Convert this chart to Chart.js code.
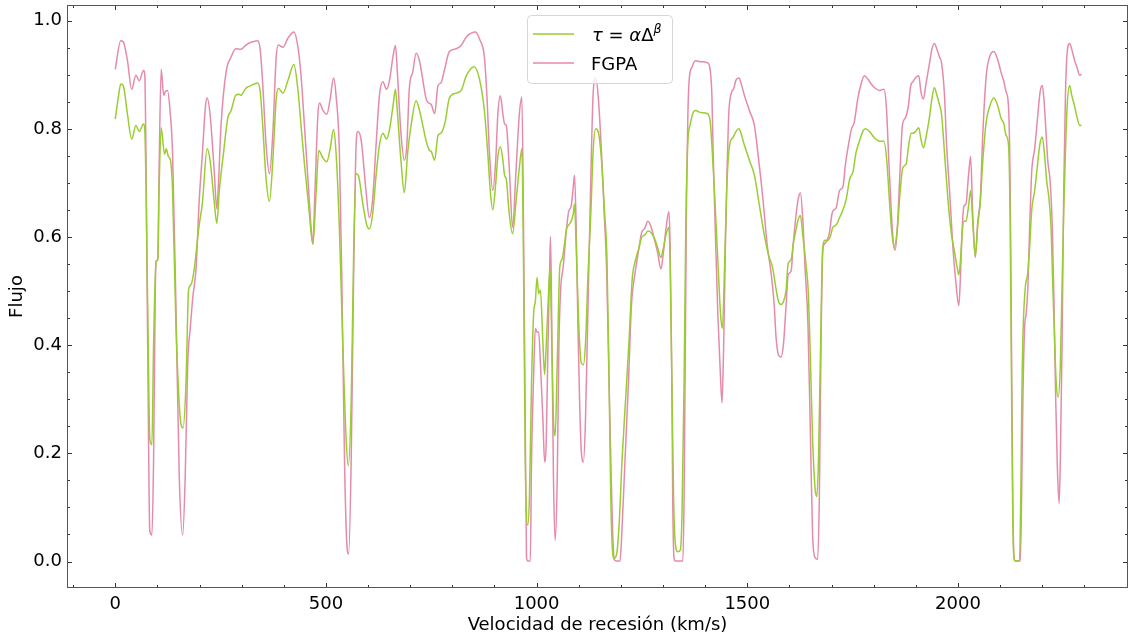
<!DOCTYPE html>
<html>
<head>
<meta charset="utf-8">
<script src="https://cdn.jsdelivr.net/npm/chart.js@4.4.1/dist/chart.umd.min.js"></script>
<style>
  html, body { margin: 0; padding: 0; background: #fff; }
  #wrap { width: 1129px; height: 639px; }
</style>
</head>
<body>
<div id="wrap"><canvas id="myChart" width="1129" height="639"></canvas></div>
<script>
// tau = alpha * Delta^beta
const tauVel = [0,8,13,19,29,39,49,57,67,70,77,82,87,91,97,101,104,109,117,121,126,131,136,144,156,161,168,174,180,188,198,207,218,225,235,241,247,257,267,275,286,294,
  298,310,322,338,344,350,358,366,374,382,387,398,410,424,433,441,449,459,469,477,483,493,502,510,518,524,532,540,548,553,560,566,572,577,587,597,603,
  611,619,627,635,644,651,659,665,670,678,686,694,702,714,722,730,738,746,750,758,766,773,783,793,809,821,833,845,852,865,876,884,890,896,903,908,914,920,924,928,
  935,943,951,959,965,969,973,979,983,988,993,997,1001,1005,1009,1015,1019,1023,1027,1032,1036,1040,1044,1049,1055,1060,1065,1071,1076,1082,1087,1090,1094,1100,1106,1111,1116,1122,1129,1134,1140,1146,1154,1161,1167,1172,1176,1180,1184,1190,1196,1203,1211,1219,1227,1235,1243,
  1250,1256,1264,1272,1280,1287,1295,1301,1307,1314,1317,1321,1325,1329,1335,1341,1345,1350,1354,1359,1364,1370,1377,1390,1406,1412,1416,1422,1430,1437,1441,1446,1451,1458,1466,1473,1480,1485,1493,1505,1517,1529,1541,1551,1560,1568,
  1574,1580,1586,1592,1597,1604,1609,1616,1621,1626,1632,1640,1645,1650,1655,1661,1665,1669,1674,1679,1685,1691,1697,1703,1711,1719,1727,1735,1743,1751,1758,1766,1774,1780,1790,1802,1814,1824,1831,1837,1843,1849,1856,1863,1869,1877,1883,1889,
  1893,1899,1907,1912,1918,1924,1932,1938,1944,1950,1956,1961,1968,1976,1984,1992,1998,2002,2006,2010,2014,2019,2025,2030,2035,2041,2047,2053,2059,2067,2075,2085,2095,2102,2109,2114,2120,2124,2127,2130,2133,2136,2146,2149,2152,2155,2160,2165,2170,2175,2182,2188,2194,2200,2205,2211,2215,2221,2225,2229,2233,2238,2243,2247,2251,2255,2259,2265,2270,2277,2282,2289,2293];
const tauFlux = [0.818,0.862,0.883,0.880,0.827,0.781,0.806,0.795,0.809,0.800,0.473,0.226,0.216,0.403,0.555,0.558,0.686,0.802,0.753,0.763,0.749,0.742,0.686,0.438,0.254,0.247,0.332,0.502,0.512,0.544,0.615,0.664,0.763,0.742,0.664,0.625,0.686,0.756,0.820,0.834,0.862,0.864,
  0.862,0.875,0.880,0.885,0.869,0.806,0.707,0.666,0.742,0.855,0.875,0.866,0.890,0.919,0.876,0.806,0.735,0.657,0.587,0.686,0.760,0.746,0.739,0.763,0.799,0.756,0.615,0.403,0.226,0.177,0.297,0.580,0.717,0.714,0.664,0.622,0.615,
  0.643,0.714,0.770,0.792,0.781,0.799,0.841,0.873,0.827,0.742,0.682,0.756,0.806,0.852,0.834,0.806,0.777,0.760,0.758,0.742,0.788,0.792,0.813,0.857,0.866,0.871,0.898,0.912,0.915,0.890,0.834,0.756,0.686,0.650,0.700,0.749,0.767,0.742,0.714,0.707,
  0.643,0.606,0.664,0.728,0.763,0.544,0.191,0.067,0.120,0.332,0.459,0.481,0.525,0.495,0.502,0.403,0.346,0.403,0.473,0.544,0.403,0.261,0.233,0.367,0.544,0.558,0.580,0.615,0.622,0.629,0.643,0.661,0.580,0.438,0.367,0.364,0.403,0.530,0.650,0.756,0.800,0.795,0.742,0.650,0.558,0.332,0.120,0.021,0.006,0.014,0.071,0.191,0.297,0.403,0.523,0.558,0.580,
  0.601,0.603,0.611,0.608,0.597,0.581,0.562,0.580,0.604,0.618,0.544,0.332,0.120,0.035,0.018,0.021,0.085,0.332,0.615,0.777,0.806,0.827,0.834,0.830,0.828,0.813,0.770,0.686,0.558,0.452,0.431,0.544,0.686,0.770,0.784,0.795,0.800,0.792,0.770,0.742,0.714,0.657,0.601,0.565,0.544,0.505,
  0.481,0.475,0.481,0.502,0.551,0.558,0.587,0.615,0.633,0.640,0.601,0.544,0.495,0.367,0.226,0.134,0.120,0.191,0.403,0.580,0.594,0.594,0.601,0.618,0.622,0.636,0.650,0.671,0.707,0.721,0.756,0.777,0.795,0.800,0.795,0.783,0.777,0.777,0.742,0.671,0.608,0.581,0.615,0.686,0.728,0.735,0.770,0.792,
  0.792,0.795,0.802,0.781,0.765,0.784,0.820,0.855,0.876,0.862,0.845,0.827,0.756,0.671,0.608,0.572,0.544,0.530,0.558,0.608,0.629,0.629,0.657,0.686,0.629,0.565,0.622,0.664,0.742,0.813,0.841,0.857,0.841,0.820,0.809,0.788,0.770,0.615,0.332,0.085,0.006,0.001,0.001,0.120,0.332,0.438,0.509,0.530,0.580,0.650,0.686,0.728,0.770,0.785,0.756,0.700,0.678,0.615,0.509,0.417,0.332,0.304,0.367,0.509,0.650,0.756,0.841,0.880,0.862,0.841,0.823,0.806,0.807];

// FGPA
const fgpaVel = [0,13,19,29,39,49,57,67,70,77,82,87,91,95,97,101,104,109,115,119,124,130,136,144,152,160,166,172,178,184,192,199,207,214,218,225,235,241,245,251,263,275,286,
  298,310,322,338,344,350,358,366,374,382,387,398,410,424,433,441,449,459,465,469,474,481,485,493,502,510,518,524,532,538,544,550,554,560,566,572,576,584,595,603,
  611,619,627,635,644,651,659,665,670,678,686,692,698,706,714,722,730,738,746,750,758,766,773,781,793,809,821,833,845,855,865,876,882,888,896,903,908,914,920,924,928,935,
  943,951,959,965,969,973,976,979,985,988,993,997,1001,1005,1009,1015,1019,1023,1027,1031,1033,1036,1040,1044,1049,1053,1057,1063,1071,1076,1082,1087,1090,1094,1098,1102,1106,1111,1116,1122,1129,1134,1140,1146,1154,1160,1166,1171,1176,1180,1184,1190,1198,1202,1210,1218,1225,1233,1241,
  1250,1256,1264,1272,1280,1287,1295,1301,1307,1314,1317,1321,1323,1326,1329,1347,1350,1353,1356,1359,1362,1369,1377,1390,1406,1412,1416,1419,1424,1430,1435,1440,1444,1448,1452,1456,1462,1468,1473,1480,1485,1493,1505,1517,1525,1537,1547,1557,1564,
  1568,1574,1580,1586,1592,1597,1604,1609,1616,1621,1626,1632,1637,1644,1650,1655,1661,1667,1671,1675,1679,1683,1690,1695,1701,1705,1711,1719,1727,1733,1740,1747,1754,1762,1770,1778,1786,1794,1802,1814,1824,1830,1835,1842,1847,1851,1856,1862,1868,1875,1882,1888,
  1893,1899,1907,1912,1918,1924,1932,1938,1944,1950,1956,1961,1968,1973,1980,1988,1995,2002,2006,2010,2014,2019,2025,2030,2035,2041,2047,2053,2059,2067,2075,2085,2095,2102,2109,2114,2120,2124,2127,2130,2133,2136,2148,2151,2154,2158,2162,2166,2170,2175,2182,2188,2195,2200,2204,2208,2213,2219,2224,2228,2232,2236,2240,2243,2247,2251,2255,2259,2265,2270,2277,2282,2289,2293];
const fgpaFlux = [0.910,0.963,0.961,0.926,0.873,0.899,0.889,0.908,0.901,0.400,0.056,0.049,0.190,0.500,0.555,0.560,0.720,0.910,0.862,0.869,0.871,0.834,0.756,0.473,0.155,0.049,0.155,0.367,0.431,0.488,0.544,0.664,0.756,0.841,0.857,0.827,0.721,0.652,0.700,0.806,0.905,0.933,0.948,
  0.947,0.955,0.960,0.963,0.947,0.883,0.770,0.717,0.792,0.933,0.955,0.951,0.968,0.979,0.954,0.898,0.806,0.686,0.615,0.587,0.686,0.827,0.848,0.834,0.827,0.855,0.894,0.862,0.756,0.509,0.191,0.028,0.014,0.191,0.544,0.777,0.795,0.777,0.686,0.636,
  0.671,0.770,0.862,0.887,0.873,0.890,0.933,0.954,0.898,0.792,0.742,0.770,0.876,0.905,0.940,0.926,0.890,0.855,0.847,0.845,0.828,0.880,0.885,0.908,0.943,0.948,0.954,0.970,0.977,0.979,0.965,0.933,0.862,0.756,0.686,0.742,0.827,0.861,0.827,0.809,0.806,0.730,
  0.618,0.721,0.827,0.859,0.615,0.261,0.007,0.001,0.001,0.191,0.346,0.431,0.424,0.424,0.367,0.261,0.184,0.226,0.403,0.544,0.601,0.438,0.155,0.039,0.155,0.403,0.502,0.544,0.615,0.647,0.657,0.693,0.714,0.615,0.438,0.297,0.205,0.184,0.261,0.473,0.721,0.862,0.894,0.862,0.756,0.650,0.544,0.367,0.191,0.064,0.004,0.001,0.001,0.049,0.191,0.332,0.473,0.530,0.570,
  0.610,0.615,0.629,0.618,0.594,0.572,0.541,0.572,0.615,0.647,0.580,0.332,0.120,0.007,0.001,0.001,0.120,0.403,0.686,0.827,0.890,0.915,0.926,0.924,0.922,0.908,0.862,0.756,0.615,0.459,0.367,0.293,0.403,0.580,0.721,0.827,0.866,0.875,0.890,0.894,0.885,0.862,0.834,0.806,0.756,0.671,0.587,0.530,0.473,
  0.417,0.382,0.378,0.403,0.473,0.530,0.537,0.587,0.643,0.671,0.682,0.629,0.544,0.438,0.226,0.049,0.007,0.004,0.120,0.403,0.572,0.587,0.594,0.608,0.643,0.650,0.654,0.686,0.693,0.735,0.770,0.799,0.813,0.855,0.883,0.898,0.892,0.883,0.876,0.871,0.873,0.841,0.756,0.643,0.587,0.576,0.615,0.714,0.806,0.820,0.841,0.880,
  0.887,0.894,0.898,0.869,0.855,0.883,0.919,0.947,0.958,0.947,0.933,0.922,0.862,0.770,0.686,0.580,0.516,0.473,0.530,0.615,0.657,0.661,0.714,0.749,0.643,0.562,0.629,0.671,0.792,0.898,0.933,0.943,0.926,0.905,0.887,0.869,0.840,0.686,0.403,0.120,0.007,0.001,0.001,0.120,0.297,0.431,0.459,0.509,0.615,0.721,0.763,0.813,0.869,0.880,0.855,0.806,0.742,0.700,0.615,0.473,0.297,0.170,0.107,0.191,0.403,0.686,0.862,0.940,0.958,0.947,0.926,0.915,0.899,0.901];

const xTicks = [0, 500, 1000, 1500, 2000];
const yTicks = [0.0, 0.2, 0.4, 0.6, 0.8, 1.0];
const xMinorStep = 100;
const yMinorStep = 0.05;

const tauColor = '#9acd32';
const fgpaColor = '#e58aab';
const FONT = "'DejaVu Sans', sans-serif";

function pts(xs, ys) {
  return xs.map((v, i) => ({ x: v, y: ys[i] }));
}

// matplotlib style frame with inward major and minor ticks, plus the legend box
const frameTicks = {
  id: 'frameTicks',
  afterDatasetsDraw(chart) {
    const { ctx, chartArea: a, scales: { x, y } } = chart;
    ctx.save();
    ctx.strokeStyle = '#333';
    ctx.lineWidth = 1;
    ctx.beginPath();
    for (let v = Math.ceil(x.min / xMinorStep) * xMinorStep; v <= x.max; v += xMinorStep) {
      const px = Math.round(x.getPixelForValue(v)) + 0.5;
      const len = xTicks.includes(v) ? 5 : 3;
      ctx.moveTo(px, a.bottom); ctx.lineTo(px, a.bottom - len);
      ctx.moveTo(px, a.top); ctx.lineTo(px, a.top + len);
    }
    for (let k = Math.ceil(y.min / yMinorStep); k * yMinorStep <= y.max; k++) {
      const v = k * yMinorStep;
      const py = Math.round(y.getPixelForValue(v)) + 0.5;
      const len = (k % 4 === 0) ? 5 : 3;
      ctx.moveTo(a.left, py); ctx.lineTo(a.left + len, py);
      ctx.moveTo(a.right, py); ctx.lineTo(a.right - len, py);
    }
    ctx.stroke();
    ctx.strokeStyle = '#555';
    ctx.strokeRect(a.left + 0.5, a.top + 0.5, a.right - a.left - 1, a.bottom - a.top - 1);
    ctx.restore();
  },
  afterDraw(chart) {
    const { ctx, chartArea: a } = chart;
    const bx = a.left + 460, by = a.top + 10, bw = 145, bh = 68;
    ctx.save();
    ctx.beginPath();
    ctx.roundRect(bx + 0.5, by + 0.5, bw, bh, 4);
    ctx.fillStyle = 'rgba(255,255,255,0.8)';
    ctx.fill();
    ctx.strokeStyle = '#d6d6d6';
    ctx.lineWidth = 1;
    ctx.stroke();

    ctx.lineWidth = 1.5;
    ctx.strokeStyle = tauColor;
    ctx.beginPath(); ctx.moveTo(bx + 6, by + 19); ctx.lineTo(bx + 47, by + 19); ctx.stroke();
    ctx.strokeStyle = fgpaColor;
    ctx.beginPath(); ctx.moveTo(bx + 6, by + 48); ctx.lineTo(bx + 47, by + 48); ctx.stroke();

    ctx.fillStyle = '#000';
    ctx.textBaseline = 'alphabetic';
    let tx = bx + 65;
    const base1 = by + 26;
    const parts = [
      ['τ', 'italic 18px ' + FONT, 0],
      [' = ', '18px ' + FONT, 0],
      ['α', 'italic 18px ' + FONT, 0],
      ['Δ', '18px ' + FONT, 0],
      ['β', 'italic 12.5px ' + FONT, -8]
    ];
    parts.forEach(([t, f, dy]) => {
      ctx.font = f;
      ctx.fillText(t, tx, base1 + dy);
      tx += ctx.measureText(t).width;
    });
    ctx.font = '18px ' + FONT;
    ctx.fillText('FGPA', bx + 64, by + 55);
    ctx.restore();
  }
};

new Chart(document.getElementById('myChart'), {
  type: 'line',
  data: {
    datasets: [
      {
        label: 'τ = αΔ^β',
        data: pts(tauVel, tauFlux),
        borderColor: tauColor,
        borderWidth: 1.5,
        pointRadius: 0,
        fill: false,
        cubicInterpolationMode: 'monotone'
      },
      {
        label: 'FGPA',
        data: pts(fgpaVel, fgpaFlux),
        borderColor: fgpaColor,
        borderWidth: 1.5,
        pointRadius: 0,
        fill: false,
        cubicInterpolationMode: 'monotone'
      }
    ]
  },
  options: {
    responsive: false,
    animation: false,
    devicePixelRatio: 1,
    layout: { padding: { top: 5, right: 1, left: 0, bottom: 0 } },
    scales: {
      x: {
        type: 'linear',
        min: -114.5,
        max: 2403.5,
        afterBuildTicks: s => { s.ticks = xTicks.map(v => ({ value: v })); },
        afterFit: s => { s.height = 51; s.paddingLeft = 0; s.paddingRight = 0; },
        grid: { display: false, drawTicks: false },
        border: { display: false },
        ticks: {
          padding: 6,
          color: '#000',
          font: { family: FONT, size: 18 },
          maxRotation: 0,
          callback: v => String(v)
        },
        title: {
          display: true,
          text: 'Velocidad de recesión (km/s)',
          color: '#000',
          font: { family: FONT, size: 18 },
          padding: { top: 0, bottom: 3 }
        }
      },
      y: {
        min: -0.049,
        max: 1.029,
        afterBuildTicks: s => { s.ticks = yTicks.map(v => ({ value: v })); },
        afterFit: s => { s.width = 67; s.paddingTop = 0; s.paddingBottom = 0; },
        grid: { display: false, drawTicks: false },
        border: { display: false },
        ticks: {
          padding: 5,
          color: '#000',
          font: { family: FONT, size: 18 },
          callback: v => Number(v).toFixed(1)
        },
        title: {
          display: true,
          text: 'Flujo',
          color: '#000',
          font: { family: FONT, size: 18 },
          padding: { top: 7, bottom: 0 }
        }
      }
    },
    plugins: {
      legend: { display: false },
      tooltip: { enabled: false }
    }
  },
  plugins: [frameTicks]
});
</script>
</body>
</html>
